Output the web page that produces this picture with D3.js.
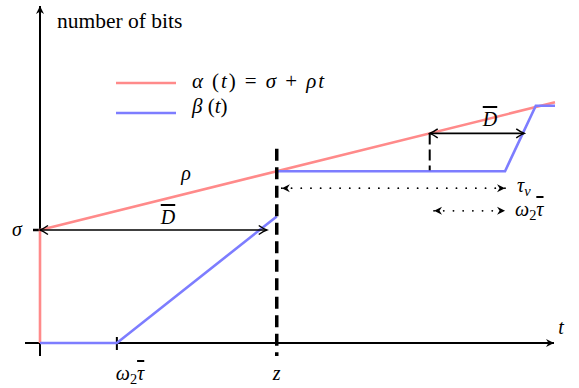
<!DOCTYPE html>
<html>
<head>
<meta charset="utf-8">
<script src="https://cdn.jsdelivr.net/npm/d3@7"></script>
<style>
  body { margin: 0; background: #fff; }
</style>
</head>
<body>
<div id="chart"></div>
<script>
// curve data (t in units, value in units of sigma); null splits the path
const alphaT = [0, 0, 6.7];
const alphaV = [0, 1, 2.13];
const betaT = [0, 1, 3.08, null, 3.08, 6.05, 6.45, 6.7];
const betaV = [0, 0, 1.12, null, 1.52, 1.52, 2.10, 2.10];

// arrows [t0, t1, v]
const dBarArrows = [[0, 2.95, 1], [5.07, 6.3, 1.855]];
const dottedArrows = [[3.12, 6.05, 1.37], [5.1, 6.05, 1.17]];

const zT = 3.08;
const wTauT = 1;
const legendLabels = ['α (t) = σ + ρt', 'β (t)'];

const width = 579;
const height = 388;
const serif = "'Liberation Serif', serif";
const fs = 20;

const x = d3.scaleLinear().domain([0, 6.7]).range([40, 555]);
const y = d3.scaleLinear().domain([0, 3]).range([343, 4]);

const svg = d3.select('#chart').append('svg')
  .attr('width', width)
  .attr('height', height);

const defs = svg.append('defs');

// open barb arrow head
defs.append('marker')
  .attr('id', 'barb')
  .attr('viewBox', '-10 -6 12 12')
  .attr('refX', 0).attr('refY', 0)
  .attr('markerWidth', 12).attr('markerHeight', 12)
  .attr('markerUnits', 'userSpaceOnUse')
  .attr('orient', 'auto-start-reverse')
  .append('path')
  .attr('d', 'M-8,-4.5 Q-3,-1 0,0 Q-3,1 -8,4.5')
  .attr('fill', 'none').attr('stroke', '#000').attr('stroke-width', 1.5);

// stealth-like filled head
defs.append('marker')
  .attr('id', 'stealth')
  .attr('viewBox', '-10 -6 12 12')
  .attr('refX', 0).attr('refY', 0)
  .attr('markerWidth', 12).attr('markerHeight', 12)
  .attr('markerUnits', 'userSpaceOnUse')
  .attr('orient', 'auto-start-reverse')
  .append('path')
  .attr('d', 'M0,0 L-8,-4 L-5.5,0 L-8,4 Z')
  .attr('fill', '#000');

// axes
svg.append('line')
  .attr('x1', x(0)).attr('y1', y(0) + 13)
  .attr('x2', x(0)).attr('y2', y(3) + 2)
  .attr('stroke', '#000').attr('stroke-width', 2)
  .attr('marker-end', 'url(#stealth)');

svg.append('line')
  .attr('x1', x(0) - 15).attr('y1', y(0))
  .attr('x2', x(6.7) - 1).attr('y2', y(0))
  .attr('stroke', '#000').attr('stroke-width', 2)
  .attr('marker-end', 'url(#stealth)');

// sigma tick
svg.append('line')
  .attr('x1', x(0) - 7).attr('x2', x(0))
  .attr('y1', y(1)).attr('y2', y(1))
  .attr('stroke', '#000').attr('stroke-width', 2.5);

// w2 tau tick
svg.append('line')
  .attr('x1', x(wTauT)).attr('x2', x(wTauT))
  .attr('y1', y(0) - 6).attr('y2', y(0) + 7)
  .attr('stroke', '#000').attr('stroke-width', 2);

const line = d3.line()
  .defined(d => d[0] !== null)
  .x(d => x(d[0])).y(d => y(d[1]));

svg.append('path')
  .attr('d', line(alphaT.map((t, i) => [t, alphaV[i]])))
  .attr('fill', 'none').attr('stroke', '#ff8a8a').attr('stroke-width', 2.6);

svg.append('path')
  .attr('d', line(betaT.map((t, i) => [t, betaV[i]])))
  .attr('fill', 'none').attr('stroke', '#7d7dff').attr('stroke-width', 2.6);

// z dashed line
svg.append('line')
  .attr('x1', x(zT)).attr('x2', x(zT))
  .attr('y1', y(1.72)).attr('y2', y(0) + 13)
  .attr('stroke', '#000').attr('stroke-width', 3.5)
  .attr('stroke-dasharray', '12,6.5');

// small dashed vertical at second D-bar
svg.append('line')
  .attr('x1', x(dBarArrows[1][0])).attr('x2', x(dBarArrows[1][0]))
  .attr('y1', y(dBarArrows[1][2])).attr('y2', y(1.52) - 1)
  .attr('stroke', '#000').attr('stroke-width', 2)
  .attr('stroke-dasharray', '11,5');

// D bar arrows
svg.selectAll('.dbar').data(dBarArrows).join('line')
  .attr('class', 'dbar')
  .attr('x1', d => x(d[0])).attr('x2', d => x(d[1]))
  .attr('y1', d => y(d[2])).attr('y2', d => y(d[2]))
  .attr('stroke', '#000').attr('stroke-width', 1.6)
  .attr('marker-start', 'url(#barb)')
  .attr('marker-end', 'url(#barb)');

// dotted arrows
svg.selectAll('.dot').data(dottedArrows).join('line')
  .attr('class', 'dot')
  .attr('x1', d => x(d[0]) + 2).attr('x2', d => x(d[1]))
  .attr('y1', d => y(d[2])).attr('y2', d => y(d[2]))
  .attr('stroke', '#000').attr('stroke-width', 1.8)
  .attr('stroke-linecap', 'round')
  .attr('stroke-dasharray', '0.1,9.6')
  .attr('marker-start', 'url(#stealth)')
  .attr('marker-end', 'url(#stealth)');

// legend
const legendColors = ['#ff8a8a', '#7d7dff'];
const leg = svg.selectAll('.leg').data(legendLabels).join('g')
  .attr('class', 'leg')
  .attr('transform', (d, i) => `translate(116,${83 + i * 30})`);
leg.append('line')
  .attr('x1', 0).attr('x2', 60)
  .attr('stroke', (d, i) => legendColors[i]).attr('stroke-width', 2.6);

function mathText(g, px, py, parts, anchor) {
  const t = g.append('text')
    .attr('x', px).attr('y', py)
    .style('font-family', serif)
    .style('font-size', fs + 'px')
    .attr('fill', '#000')
    .attr('text-anchor', anchor || 'start');
  parts.forEach(p => {
    const s = t.append('tspan').text(p.s);
    if (p.it) s.style('font-style', 'italic');
    if (p.over) s.style('text-decoration', 'overline');
    if (p.sub) s.style('font-size', (fs * 0.72) + 'px').attr('dy', 4);
    if (p.up) s.attr('dy', -4);
  });
  return t;
}

mathText(svg, 192, 88, [{ s: 'α', it: 1 }, { s: ' (' }, { s: 't', it: 1 }, { s: ') = ' }, { s: 'σ', it: 1 }, { s: ' + ' }, { s: 'ρt', it: 1 }])
  .style('font-size', '21px')
  .attr('textLength', 132).attr('lengthAdjust', 'spacing');
mathText(svg, 192, 113, [{ s: 'β', it: 1 }, { s: ' (' }, { s: 't', it: 1 }, { s: ')' }])
  .style('font-size', '21px');

svg.append('text').attr('x', 57).attr('y', 28)
  .style('font-family', serif).style('font-size', '21.5px').text('number of bits');

mathText(svg, 17, 236, [{ s: 'σ', it: 1 }], 'middle');
mathText(svg, 186, 180, [{ s: 'ρ', it: 1 }], 'middle');
mathText(svg, 168, 224, [{ s: 'D', it: 1, over: 1 }], 'middle');
mathText(svg, 490, 126, [{ s: 'D', it: 1, over: 1 }], 'middle');
mathText(svg, 517, 192, [{ s: 'τ', it: 1 }, { s: 'v', it: 1, sub: 1 }]);
mathText(svg, 515, 216, [{ s: 'ω', it: 1 }, { s: '2', sub: 1 }, { s: 'τ', it: 1, over: 1, up: 1 }]);
mathText(svg, 130, 380, [{ s: 'ω', it: 1 }, { s: '2', sub: 1 }, { s: 'τ', it: 1, over: 1, up: 1 }], 'middle');
mathText(svg, x(zT), 380, [{ s: 'z', it: 1 }], 'middle');
mathText(svg, 561, 334, [{ s: 't', it: 1 }], 'middle');
</script>
</body>
</html>
